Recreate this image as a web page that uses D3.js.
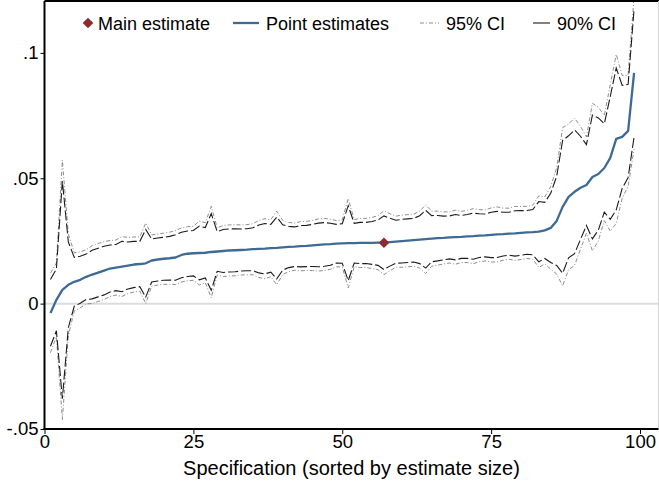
<!DOCTYPE html>
<html>
<head>
<meta charset="utf-8">
<script src="https://cdn.jsdelivr.net/npm/d3@7"></script>
<style>
  body { margin: 0; background: #fff; }
  svg { display: block; }
  text { font-family: "Liberation Sans", Arial, sans-serif; }
</style>
</head>
<body>
<script>
// Specification curve: sorted point estimates with 90% and 95% confidence bands
const specs = d3.range(1, 100);

const estimates = [
  -0.0037, 0.0015, 0.0055, 0.0075, 0.0087, 0.0095, 0.0107, 0.0116, 0.0124, 0.0132,
   0.0140, 0.0144, 0.0148, 0.0152, 0.0156, 0.0158, 0.0161, 0.0172, 0.0176, 0.0179,
   0.0181, 0.0184, 0.0194, 0.0199, 0.0201, 0.0202, 0.0203, 0.0206, 0.0208, 0.0210,
   0.0212, 0.0213, 0.0214, 0.0215, 0.0217, 0.0218, 0.0219, 0.0221, 0.0222, 0.0224,
   0.0226, 0.0227, 0.0229, 0.0230, 0.0232, 0.0234, 0.0236, 0.0237, 0.0239, 0.0240,
   0.0241, 0.0241, 0.0242, 0.0242, 0.0242, 0.0243, 0.0243, 0.0245, 0.0247, 0.0249,
   0.0251, 0.0253, 0.0255, 0.0257, 0.0259, 0.0261, 0.0262, 0.0264, 0.0265, 0.0266,
   0.0268, 0.0269, 0.0271, 0.0272, 0.0274, 0.0276, 0.0277, 0.0279, 0.0280, 0.0282,
   0.0284, 0.0285, 0.0287, 0.0292, 0.0302, 0.0330, 0.0386, 0.0426, 0.0446, 0.0462,
   0.0473, 0.0505, 0.0517, 0.0541, 0.0581, 0.0657, 0.0665, 0.0689, 0.0920
];

const stdErrors = [
  0.0081, 0.0075, 0.0264, 0.0104, 0.0059, 0.0057, 0.0055, 0.0059, 0.0059, 0.0059,
  0.0057, 0.0056, 0.0061, 0.0057, 0.0056, 0.0055, 0.0082, 0.0052, 0.0052, 0.0052,
  0.0053, 0.0055, 0.0055, 0.0055, 0.0055, 0.0065, 0.0061, 0.0093, 0.0048, 0.0052,
  0.0052, 0.0052, 0.0051, 0.0051, 0.0052, 0.0058, 0.0061, 0.0058, 0.0075, 0.0055,
  0.0050, 0.0048, 0.0050, 0.0050, 0.0051, 0.0053, 0.0053, 0.0051, 0.0047, 0.0048,
  0.0091, 0.0048, 0.0050, 0.0050, 0.0052, 0.0055, 0.0065, 0.0058, 0.0052, 0.0053,
  0.0053, 0.0053, 0.0058, 0.0070, 0.0056, 0.0055, 0.0053, 0.0052, 0.0055, 0.0052,
  0.0053, 0.0056, 0.0053, 0.0052, 0.0055, 0.0056, 0.0053, 0.0052, 0.0055, 0.0054,
  0.0053, 0.0055, 0.0073, 0.0068, 0.0084, 0.0108, 0.0161, 0.0148, 0.0150, 0.0125,
  0.0098, 0.0150, 0.0136, 0.0107, 0.0149, 0.0172, 0.0125, 0.0113, 0.0155
];

const mainSpec = 57;
const z90 = 1.645, z95 = 1.96;

const xTicks = [0, 25, 50, 75, 100];
const yTicks = [-0.05, 0, 0.05, 0.1];
const yTickLabels = ["-.05", "0", ".05", ".1"];
const xTitle = "Specification (sorted by estimate size)";
const legendLabels = ["Main estimate", "Point estimates", "95% CI", "90% CI"];

const W = 659, H = 481;
const plotL = 44.5, plotR = 658.5, plotT = 1, plotB = 429;

const COL_EST = "#3e6a94";
const COL_MAIN = "#8c2b2f";
const COL_90 = "#1a1a1a";
const COL_95 = "#808080";

const rows = specs.map((s, i) => ({
  s, est: estimates[i], se: stdErrors[i]
}));

const x = d3.scaleLinear().domain([0, 103.1]).range([plotL, plotR]);
const y = d3.scaleLinear().domain([-0.05, 0.1207]).range([plotB, plotT]);

const svg = d3.select("body").append("svg")
  .attr("width", W).attr("height", H);

svg.append("defs").append("clipPath").attr("id", "plotclip")
  .append("rect").attr("x", plotL).attr("y", plotT)
  .attr("width", plotR - plotL).attr("height", plotB - plotT);

// zero reference line
svg.append("line")
  .attr("x1", plotL).attr("x2", plotR)
  .attr("y1", y(0)).attr("y2", y(0))
  .attr("stroke", "#dcdcdc").attr("stroke-width", 2);

const plot = svg.append("g").attr("clip-path", "url(#plotclip)");

const lineOf = acc => d3.line().x(d => x(d.s)).y(d => y(acc(d)));

// 95% band: dash-dot grey
[d => d.est + z95 * d.se, d => d.est - z95 * d.se].forEach(acc => {
  plot.append("path").datum(rows)
    .attr("d", lineOf(acc))
    .attr("fill", "none").attr("stroke", COL_95)
    .attr("stroke-width", 0.9)
    .attr("stroke-dasharray", "4,2,1,2");
});

// 90% band: long dashes
[d => d.est + z90 * d.se, d => d.est - z90 * d.se].forEach(acc => {
  plot.append("path").datum(rows)
    .attr("d", lineOf(acc))
    .attr("fill", "none").attr("stroke", COL_90)
    .attr("stroke-width", 1.1)
    .attr("stroke-dasharray", "10,3");
});

// point estimates
plot.append("path").datum(rows)
  .attr("d", lineOf(d => d.est))
  .attr("fill", "none").attr("stroke", COL_EST)
  .attr("stroke-width", 2.3)
  .attr("stroke-linejoin", "round");

// main estimate marker
const mainRow = rows.find(r => r.s === mainSpec);
const diamond = d3.symbol().type(d3.symbolDiamond2).size(72);
plot.append("path")
  .attr("d", diamond())
  .attr("transform", `translate(${x(mainRow.s)},${y(mainRow.est)})`)
  .attr("fill", COL_MAIN);

// frame: top and right edges
svg.append("line").attr("x1", plotL).attr("x2", W).attr("y1", 1).attr("y2", 1)
  .attr("stroke", "#000").attr("stroke-width", 2);
svg.append("line").attr("x1", plotR).attr("x2", plotR).attr("y1", 1).attr("y2", plotB)
  .attr("stroke", "#d8d8d8").attr("stroke-width", 1);

// axes
const yAxis = d3.axisLeft(y).tickValues(yTicks)
  .tickFormat((d, i) => yTickLabels[i]).tickSize(4).tickPadding(2);
const gy = svg.append("g").attr("transform", `translate(${plotL},0)`).call(yAxis);
gy.select(".domain").attr("stroke", "#000").attr("stroke-width", 2)
  .attr("d", `M0,${plotT}V${plotB + 1}`);
gy.selectAll(".tick line").attr("stroke", "#000").attr("stroke-width", 1);
gy.selectAll(".tick text").attr("font-size", 18.5).attr("fill", "#000")
  .attr("font-family", "Liberation Sans, Arial, sans-serif");

const xAxis = d3.axisBottom(x).tickValues(xTicks).tickSize(5).tickPadding(1);
const gx = svg.append("g").attr("transform", `translate(0,${plotB})`).call(xAxis);
gx.select(".domain").attr("stroke", "#000").attr("stroke-width", 2)
  .attr("d", `M${plotL - 1},0H${plotR}`);
gx.selectAll(".tick line").attr("stroke", "#000").attr("stroke-width", 1);
gx.selectAll(".tick text").attr("font-size", 18.5).attr("fill", "#000")
  .attr("font-family", "Liberation Sans, Arial, sans-serif");

svg.append("text")
  .attr("x", (plotL + plotR) / 2).attr("y", 475)
  .attr("text-anchor", "middle").attr("font-size", 20)
  .text(xTitle);

// legend
const lg = svg.append("g").attr("font-size", 18);
const ly = 23, lb = 29.5;
lg.append("path").attr("d", diamond())
  .attr("transform", `translate(88,${ly})`).attr("fill", COL_MAIN);
lg.append("text").attr("x", 98).attr("y", lb).text(legendLabels[0]);

lg.append("line").attr("x1", 233).attr("x2", 259).attr("y1", ly).attr("y2", ly)
  .attr("stroke", COL_EST).attr("stroke-width", 2.3);
lg.append("text").attr("x", 266).attr("y", lb).text(legendLabels[1]);

lg.append("line").attr("x1", 420).attr("x2", 439).attr("y1", ly).attr("y2", ly)
  .attr("stroke", COL_95).attr("stroke-width", 0.9).attr("stroke-dasharray", "4,2,1,2");
lg.append("text").attr("x", 446).attr("y", lb).text(legendLabels[2]);

lg.append("line").attr("x1", 533).attr("x2", 550).attr("y1", ly).attr("y2", ly)
  .attr("stroke", COL_90).attr("stroke-width", 1.1);
lg.append("text").attr("x", 557).attr("y", lb).text(legendLabels[3]);
</script>
</body>
</html>
